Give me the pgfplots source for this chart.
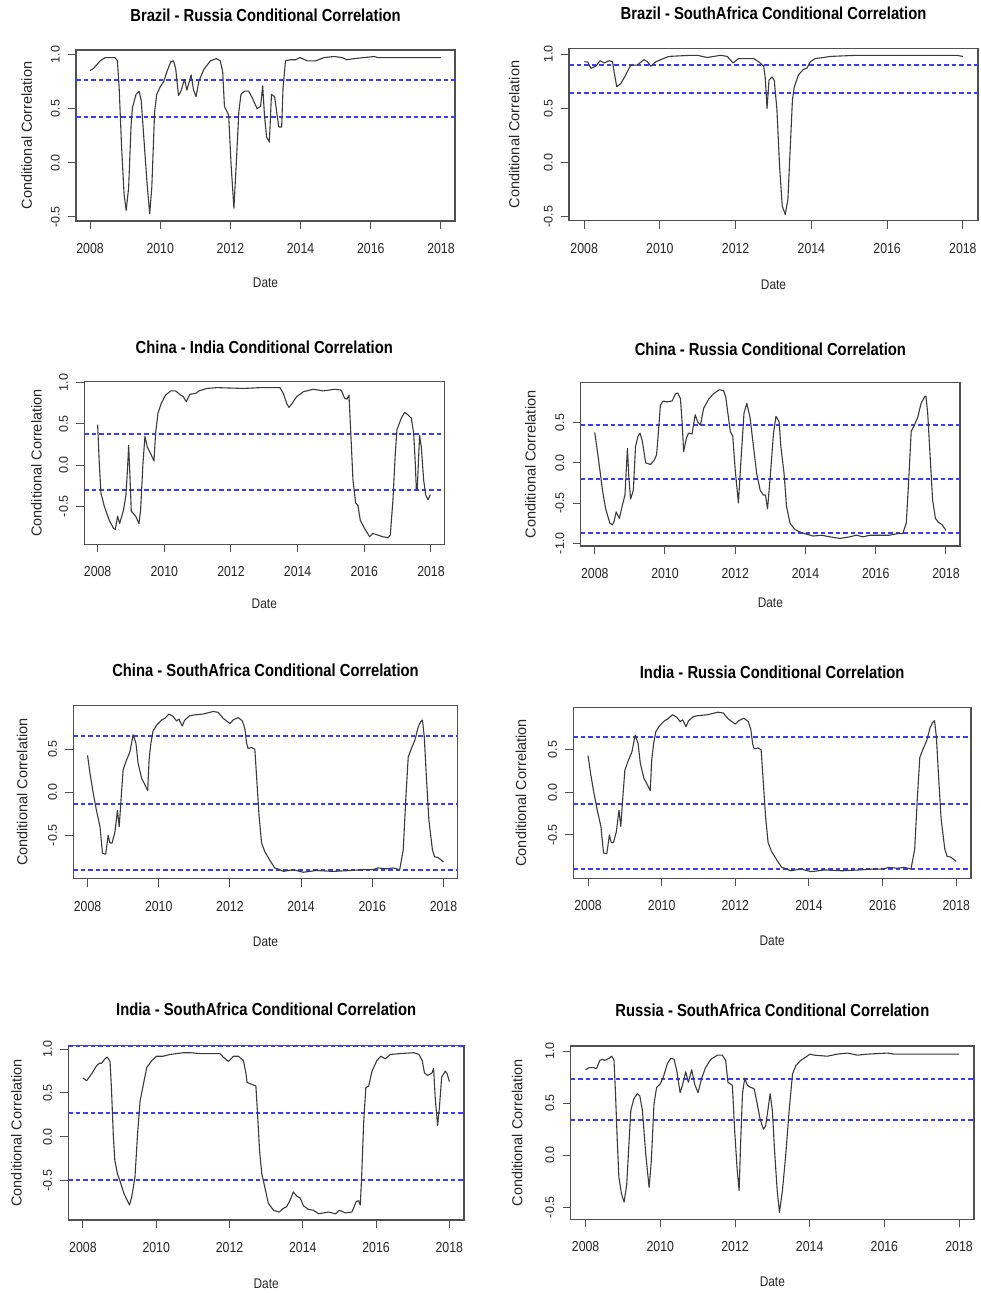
\documentclass[border=0pt]{standalone}
\usepackage{fontspec}
\setmainfont{Liberation Sans}
\newfontfamily\narrowsans[FakeStretch=0.85]{Liberation Sans}
\usepackage{pgfplots}
\usepackage{pgfplotstable}
\pgfplotsset{compat=1.18}

\definecolor{curveC}{HTML}{3A3A3A}
\definecolor{frameC}{HTML}{505050}
\definecolor{hlC}{HTML}{3C3CFF}
\definecolor{labC}{HTML}{262626}

\newcommand{\titlefont}{\narrowsans\bfseries\fontsize{17.4}{20}\selectfont}
\newcommand{\xlabfont}{\narrowsans\fontsize{14}{16}\selectfont}
\newcommand{\xtickfont}{\narrowsans\fontsize{14.5}{16}\selectfont}
\newcommand{\ylabfont}{\fontsize{14.5}{16}\selectfont}
\newcommand{\ytickfont}{\fontsize{12.5}{14}\selectfont}

\pgfplotsset{
  rpanel/.style={
    scale only axis,
    xmin=2007.6, xmax=2018.4,
    xtick={2008,2010,2012,2014,2016,2018},
    xticklabels={2008,2010,2012,2014,2016,2018},
    tick align=outside, xtick pos=left, ytick pos=left,
    major tick length=8pt,
    axis line style={draw=frameC, line width=1.2pt},
    tick style={draw=frameC, line width=1pt},
    xticklabel style={font=\xtickfont, text=labC, anchor=base, yshift=-24.5pt, inner sep=0pt},
    yticklabel style={font=\ytickfont, text=labC, xshift=-8.5pt, rotate=90, anchor=base, inner sep=0pt},
  },
  corr/.style={draw=curveC, line width=1.1pt, line join=round, mark=none},
  hline/.style={draw=hlC, line width=1.7pt, dash pattern=on 4.5pt off 3pt, mark=none},
}

% Brazil - Russia
\pgfplotstableread{
x y
2008.00 0.85
2008.10 0.87
2008.29 0.94
2008.43 0.97
2008.62 0.97
2008.71 0.97
2008.78 0.94
2008.83 0.69
2008.90 0.14
2008.97 -0.29
2009.03 -0.44
2009.10 -0.23
2009.17 0.35
2009.21 0.51
2009.31 0.63
2009.40 0.66
2009.46 0.57
2009.52 0.29
2009.62 -0.17
2009.70 -0.47
2009.76 -0.23
2009.84 0.47
2009.90 0.63
2010.00 0.70
2010.10 0.75
2010.19 0.84
2010.30 0.93
2010.38 0.94
2010.44 0.87
2010.52 0.62
2010.59 0.66
2010.69 0.77
2010.76 0.67
2010.88 0.81
2010.95 0.67
2011.02 0.61
2011.10 0.75
2011.24 0.86
2011.43 0.94
2011.60 0.96
2011.71 0.94
2011.78 0.84
2011.83 0.52
2011.95 0.44
2012.02 -0.02
2012.10 -0.42
2012.17 0.01
2012.24 0.47
2012.30 0.63
2012.40 0.66
2012.52 0.66
2012.62 0.60
2012.76 0.50
2012.86 0.52
2012.92 0.71
2012.97 0.44
2013.03 0.24
2013.11 0.19
2013.17 0.63
2013.26 0.61
2013.33 0.44
2013.38 0.33
2013.46 0.33
2013.50 0.69
2013.57 0.94
2013.71 0.95
2013.86 0.95
2013.98 0.97
2014.19 0.94
2014.43 0.94
2014.67 0.97
2014.95 0.98
2015.19 0.97
2015.31 0.95
2015.52 0.96
2015.81 0.97
2016.10 0.98
2016.19 0.97
2018.00 0.97
}\brru

% Brazil - SouthAfrica
\pgfplotstableread{
x y
2008.00 0.93
2008.09 0.93
2008.18 0.87
2008.31 0.89
2008.42 0.94
2008.53 0.92
2008.66 0.94
2008.75 0.93
2008.79 0.84
2008.86 0.70
2008.97 0.73
2009.10 0.81
2009.23 0.90
2009.40 0.90
2009.58 0.95
2009.67 0.93
2009.76 0.89
2009.89 0.93
2010.02 0.95
2010.24 0.98
2010.81 0.99
2010.99 0.99
2011.25 0.97
2011.60 0.99
2011.78 0.98
2011.93 0.92
2012.08 0.96
2012.48 0.96
2012.61 0.93
2012.74 0.89
2012.78 0.79
2012.83 0.50
2012.88 0.76
2012.96 0.79
2013.02 0.76
2013.09 0.49
2013.16 -0.03
2013.23 -0.40
2013.31 -0.48
2013.38 -0.34
2013.44 0.12
2013.50 0.58
2013.55 0.70
2013.66 0.81
2013.79 0.86
2013.88 0.87
2013.97 0.93
2014.10 0.96
2014.32 0.97
2014.50 0.98
2015.20 0.99
2016.08 0.99
2016.96 0.99
2017.83 0.99
2018.00 0.98
}\brsa

% China - India
\pgfplotstableread{
x y
2008.00 0.49
2008.05 0.02
2008.10 -0.34
2008.20 -0.50
2008.35 -0.67
2008.48 -0.77
2008.53 -0.78
2008.60 -0.62
2008.66 -0.71
2008.78 -0.54
2008.85 -0.36
2008.90 -0.02
2008.93 0.24
2008.97 -0.14
2009.01 -0.56
2009.14 -0.62
2009.24 -0.71
2009.29 -0.54
2009.36 0.02
2009.42 0.35
2009.49 0.22
2009.59 0.14
2009.69 0.05
2009.74 0.39
2009.81 0.63
2009.91 0.75
2010.04 0.85
2010.19 0.90
2010.34 0.90
2010.49 0.85
2010.57 0.83
2010.66 0.77
2010.77 0.86
2010.94 0.87
2011.04 0.90
2011.28 0.93
2011.58 0.94
2012.38 0.93
2012.88 0.94
2013.47 0.94
2013.57 0.87
2013.67 0.75
2013.74 0.70
2013.82 0.74
2013.97 0.83
2014.17 0.89
2014.47 0.92
2014.77 0.90
2015.11 0.92
2015.31 0.91
2015.41 0.81
2015.48 0.80
2015.54 0.85
2015.59 0.43
2015.66 -0.18
2015.74 -0.46
2015.81 -0.49
2015.88 -0.67
2016.01 -0.77
2016.16 -0.87
2016.26 -0.83
2016.41 -0.85
2016.56 -0.87
2016.71 -0.88
2016.78 -0.85
2016.86 -0.42
2016.93 0.14
2016.98 0.43
2017.11 0.57
2017.21 0.64
2017.31 0.61
2017.41 0.57
2017.48 0.39
2017.53 0.02
2017.56 -0.29
2017.59 -0.29
2017.63 0.10
2017.66 0.36
2017.71 0.22
2017.78 -0.18
2017.84 -0.36
2017.91 -0.42
2017.98 -0.36
}\chin

% China - Russia
\pgfplotstableread{
x y
2008.00 0.38
2008.12 0.00
2008.22 -0.34
2008.31 -0.57
2008.43 -0.75
2008.50 -0.77
2008.55 -0.73
2008.61 -0.61
2008.70 -0.69
2008.78 -0.54
2008.86 -0.40
2008.93 0.18
2008.97 -0.17
2009.02 -0.45
2009.10 -0.34
2009.16 0.20
2009.23 0.33
2009.29 0.37
2009.35 0.28
2009.45 0.00
2009.59 -0.02
2009.70 0.04
2009.76 0.10
2009.81 0.37
2009.87 0.72
2009.95 0.77
2010.06 0.76
2010.20 0.77
2010.30 0.86
2010.36 0.87
2010.44 0.80
2010.49 0.49
2010.53 0.14
2010.61 0.31
2010.67 0.37
2010.77 0.36
2010.86 0.60
2010.93 0.51
2011.01 0.47
2011.10 0.68
2011.24 0.79
2011.38 0.86
2011.55 0.91
2011.67 0.90
2011.73 0.82
2011.79 0.62
2011.86 0.39
2011.93 0.33
2012.00 -0.09
2012.09 -0.50
2012.17 0.08
2012.25 0.62
2012.33 0.74
2012.42 0.57
2012.52 0.20
2012.61 -0.13
2012.71 -0.34
2012.80 -0.40
2012.86 -0.40
2012.92 -0.57
2012.99 -0.21
2013.09 0.37
2013.16 0.58
2013.25 0.51
2013.30 0.20
2013.39 -0.13
2013.46 -0.54
2013.56 -0.75
2013.70 -0.83
2013.84 -0.86
2013.98 -0.88
2014.22 -0.91
2014.46 -0.90
2014.69 -0.92
2014.98 -0.94
2015.26 -0.92
2015.45 -0.90
2015.64 -0.92
2015.83 -0.90
2016.11 -0.90
2016.39 -0.90
2016.63 -0.88
2016.77 -0.88
2016.87 -0.75
2016.94 -0.21
2017.01 0.39
2017.10 0.47
2017.20 0.57
2017.29 0.74
2017.39 0.82
2017.43 0.83
2017.48 0.62
2017.55 0.08
2017.62 -0.46
2017.70 -0.69
2017.79 -0.74
2017.89 -0.77
2018.00 -0.84
}\chru

% China - SouthAfrica (and India - Russia)
\pgfplotstableread{
x y
2008.00 0.43
2008.07 0.22
2008.16 -0.01
2008.25 -0.21
2008.35 -0.40
2008.42 -0.71
2008.51 -0.72
2008.58 -0.50
2008.63 -0.59
2008.69 -0.59
2008.77 -0.46
2008.84 -0.21
2008.89 -0.40
2008.94 -0.09
2009.00 0.26
2009.10 0.38
2009.19 0.47
2009.28 0.67
2009.36 0.57
2009.42 0.34
2009.52 0.16
2009.61 0.09
2009.69 0.02
2009.73 0.38
2009.78 0.57
2009.84 0.71
2009.94 0.78
2010.08 0.84
2010.17 0.86
2010.29 0.91
2010.41 0.88
2010.50 0.83
2010.57 0.85
2010.66 0.77
2010.73 0.84
2010.87 0.89
2011.01 0.90
2011.25 0.91
2011.53 0.94
2011.67 0.93
2011.81 0.86
2012.00 0.80
2012.09 0.84
2012.23 0.87
2012.35 0.83
2012.42 0.74
2012.47 0.57
2012.51 0.51
2012.61 0.52
2012.70 0.50
2012.75 0.18
2012.82 -0.28
2012.89 -0.59
2012.98 -0.69
2013.12 -0.79
2013.26 -0.88
2013.40 -0.90
2013.50 -0.92
2013.78 -0.90
2014.06 -0.93
2014.43 -0.91
2014.90 -0.92
2015.37 -0.91
2015.74 -0.90
2016.02 -0.90
2016.16 -0.88
2016.40 -0.89
2016.59 -0.88
2016.77 -0.90
2016.87 -0.67
2016.94 -0.09
2017.01 0.41
2017.10 0.51
2017.20 0.61
2017.29 0.76
2017.36 0.82
2017.41 0.84
2017.46 0.65
2017.52 0.18
2017.59 -0.32
2017.69 -0.67
2017.75 -0.75
2017.85 -0.76
2018.00 -0.81
}\chsa

% India - SouthAfrica
\pgfplotstableread{
x y
2008.00 0.67
2008.10 0.64
2008.24 0.72
2008.37 0.81
2008.45 0.84
2008.51 0.84
2008.60 0.89
2008.66 0.91
2008.74 0.86
2008.78 0.53
2008.83 0.00
2008.87 -0.27
2008.94 -0.42
2009.03 -0.53
2009.12 -0.65
2009.27 -0.78
2009.33 -0.69
2009.42 -0.46
2009.49 0.03
2009.56 0.41
2009.65 0.60
2009.74 0.79
2009.88 0.87
2010.01 0.92
2010.19 0.92
2010.38 0.94
2010.74 0.96
2010.92 0.96
2011.20 0.95
2011.74 0.95
2011.83 0.91
2011.97 0.86
2012.11 0.92
2012.24 0.92
2012.38 0.87
2012.45 0.72
2012.48 0.62
2012.60 0.60
2012.72 0.58
2012.76 0.30
2012.82 -0.16
2012.88 -0.42
2012.97 -0.59
2013.06 -0.76
2013.20 -0.84
2013.36 -0.86
2013.46 -0.82
2013.56 -0.80
2013.66 -0.72
2013.74 -0.63
2013.84 -0.68
2013.93 -0.70
2014.02 -0.79
2014.16 -0.83
2014.29 -0.84
2014.43 -0.88
2014.57 -0.87
2014.70 -0.86
2014.89 -0.88
2015.00 -0.84
2015.16 -0.87
2015.34 -0.86
2015.46 -0.74
2015.52 -0.73
2015.57 -0.78
2015.61 -0.42
2015.66 0.15
2015.72 0.56
2015.80 0.58
2015.89 0.75
2016.02 0.87
2016.13 0.92
2016.25 0.89
2016.39 0.94
2016.66 0.95
2017.03 0.96
2017.17 0.94
2017.26 0.87
2017.32 0.73
2017.41 0.70
2017.53 0.73
2017.57 0.78
2017.62 0.41
2017.68 0.13
2017.73 0.34
2017.79 0.68
2017.89 0.75
2017.94 0.72
2018.00 0.63
}\insa

% Russia - SouthAfrica
\pgfplotstableread{
x y
2008.00 0.82
2008.09 0.84
2008.22 0.84
2008.29 0.83
2008.38 0.91
2008.45 0.92
2008.51 0.91
2008.63 0.93
2008.70 0.95
2008.76 0.91
2008.80 0.59
2008.85 0.11
2008.89 -0.21
2008.96 -0.37
2009.03 -0.45
2009.10 -0.28
2009.16 0.11
2009.21 0.43
2009.29 0.54
2009.38 0.59
2009.45 0.57
2009.52 0.43
2009.61 0.01
2009.70 -0.31
2009.76 -0.05
2009.83 0.49
2009.90 0.65
2009.99 0.68
2010.08 0.75
2010.19 0.88
2010.28 0.93
2010.37 0.92
2010.44 0.81
2010.53 0.60
2010.59 0.67
2010.68 0.80
2010.75 0.70
2010.84 0.82
2010.92 0.68
2011.01 0.60
2011.10 0.73
2011.21 0.84
2011.35 0.92
2011.53 0.96
2011.66 0.96
2011.75 0.91
2011.81 0.70
2011.93 0.67
2011.99 0.24
2012.06 -0.15
2012.11 -0.34
2012.15 0.11
2012.20 0.59
2012.26 0.74
2012.33 0.67
2012.42 0.65
2012.51 0.64
2012.58 0.52
2012.67 0.35
2012.76 0.25
2012.82 0.28
2012.88 0.43
2012.94 0.59
2013.00 0.43
2013.06 0.04
2013.13 -0.34
2013.19 -0.55
2013.27 -0.34
2013.36 0.01
2013.45 0.43
2013.54 0.78
2013.63 0.86
2013.76 0.91
2013.89 0.94
2014.01 0.97
2014.12 0.96
2014.47 0.95
2014.74 0.97
2015.01 0.98
2015.28 0.96
2015.54 0.97
2016.08 0.98
2016.26 0.97
2018.00 0.97
}\rusa

\begin{document}
\begin{tikzpicture}
\path[use as bounding box] (0pt,0pt) rectangle (981pt,1293pt);

% ---- row 1 ----
\begin{axis}[rpanel, name=p1, at={(76pt,1072pt)}, width=379pt, height=171pt,
    ymin=-0.537, ymax=1.04, ytick={-0.5,0,0.5,1}, yticklabels={-0.5,0.0,0.5,1.0}]
\addplot[hline] coordinates {(2007.6,0.765) (2018.4,0.765)};
\addplot[hline] coordinates {(2007.6,0.42) (2018.4,0.42)};
\addplot[corr] table[x=x,y=y] {\brru};
\end{axis}
\begin{axis}[rpanel, name=p2, at={(569pt,1072.3pt)}, width=409pt, height=172.4pt,
    ymin=-0.537, ymax=1.055, ytick={-0.5,0,0.5,1}, yticklabels={-0.5,0.0,0.5,1.0}]
\addplot[hline] coordinates {(2007.6,0.9) (2018.4,0.9)};
\addplot[hline] coordinates {(2007.6,0.642) (2018.4,0.642)};
\addplot[corr] table[x=x,y=y] {\brsa};
\end{axis}

% ---- row 2 ----
\begin{axis}[rpanel, name=p3, at={(84.3pt,748.7pt)}, width=360pt, height=162.6pt,
    ymin=-0.961, ymax=1.012, ytick={-0.5,0,0.5,1}, yticklabels={-0.5,0.0,0.5,1.0}]
\addplot[hline] coordinates {(2007.6,0.377) (2018.4,0.377)};
\addplot[hline] coordinates {(2007.6,-0.298) (2018.4,-0.298)};
\addplot[corr] table[x=x,y=y] {\chin};
\end{axis}
\begin{axis}[rpanel, name=p4, at={(580.7pt,747pt)}, width=379.3pt, height=163.3pt,
    ymin=-1.034, ymax=0.998, ytick={-1,-0.5,0,0.5}, yticklabels={-1.0,-0.5,0.0,0.5}]
\addplot[hline] coordinates {(2007.6,0.471) (2018.4,0.471)};
\addplot[hline] coordinates {(2007.6,-0.203) (2018.4,-0.203)};
\addplot[hline] coordinates {(2007.6,-0.868) (2018.4,-0.868)};
\addplot[corr] table[x=x,y=y] {\chru};
\end{axis}

% ---- row 3 ----
\begin{axis}[rpanel, name=p5, at={(73.3pt,414.3pt)}, width=384.4pt, height=173pt,
    ymin=-1.005, ymax=1.007, ytick={-0.5,0,0.5}, yticklabels={-0.5,0.0,0.5}]
\addplot[hline] coordinates {(2007.6,0.651) (2018.4,0.651)};
\addplot[hline] coordinates {(2007.6,-0.133) (2018.4,-0.133)};
\addplot[hline] coordinates {(2007.6,-0.9) (2018.4,-0.9)};
\addplot[corr] table[x=x,y=y] {\chsa};
\end{axis}
\begin{axis}[rpanel, name=p6, at={(573.3pt,414.7pt)}, width=397.7pt, height=171pt,
    ymin=-1.008, ymax=0.997, ytick={-0.5,0,0.5}, yticklabels={-0.5,0.0,0.5}]
\addplot[hline] coordinates {(2007.6,0.649) (2018.4,0.649)};
\addplot[hline] coordinates {(2007.6,-0.133) (2018.4,-0.133)};
\addplot[hline] coordinates {(2007.6,-0.899) (2018.4,-0.899)};
\addplot[corr] table[x=x,y=y] {\chsa};
\end{axis}

% ---- row 4 ----
\begin{axis}[rpanel, name=p7, at={(68.3pt,73pt)}, width=395.7pt, height=174.3pt,
    ymin=-0.951, ymax=1.04, ytick={-0.5,0,0.5,1}, yticklabels={-0.5,0.0,0.5,1.0}]
\addplot[hline] coordinates {(2007.6,1.036) (2018.4,1.036)};
\addplot[hline] coordinates {(2007.6,0.271) (2018.4,0.271)};
\addplot[hline] coordinates {(2007.6,-0.495) (2018.4,-0.495)};
\addplot[corr] table[x=x,y=y] {\insa};
\end{axis}
\begin{axis}[rpanel, name=p8, at={(570.7pt,73.7pt)}, width=403.3pt, height=173.3pt,
    ymin=-0.615, ymax=1.048, ytick={-0.5,0,0.5,1}, yticklabels={-0.5,0.0,0.5,1.0}]
\addplot[hline] coordinates {(2007.6,0.728) (2018.4,0.728)};
\addplot[hline] coordinates {(2007.6,0.338) (2018.4,0.338)};
\addplot[corr] table[x=x,y=y] {\rusa};
\end{axis}

% titles and axis labels
\foreach \p/\t/\ttl/\d/\yl in {
    p1/28/{Brazil - Russia Conditional Correlation}/67/44,
    p2/28.3/{Brazil - SouthAfrica Conditional Correlation}/69/49.7,
    p3/27.7/{China - India Conditional Correlation}/64/42.6,
    p4/26.7/{China - Russia Conditional Correlation}/62/45,
    p5/29/{China - SouthAfrica Conditional Correlation}/68/46,
    p6/29/{India - Russia Conditional Correlation}/67/47.3,
    p7/29.7/{India - SouthAfrica Conditional Correlation}/68/46.6,
    p8/29.3/{Russia - SouthAfrica Conditional Correlation}/67.4/48.4}{
  \node[font=\titlefont, anchor=base, inner sep=0pt] at ([yshift=\t pt]\p.north) {\ttl};
  \node[font=\xlabfont, text=labC, anchor=base, inner sep=0pt] at ([yshift=-\d pt]\p.south) {Date};
  \node[font=\ylabfont, text=labC, rotate=90, anchor=base, inner sep=0pt] at ([xshift=-\yl pt]\p.west) {Conditional Correlation};
}
\end{tikzpicture}
\end{document}
